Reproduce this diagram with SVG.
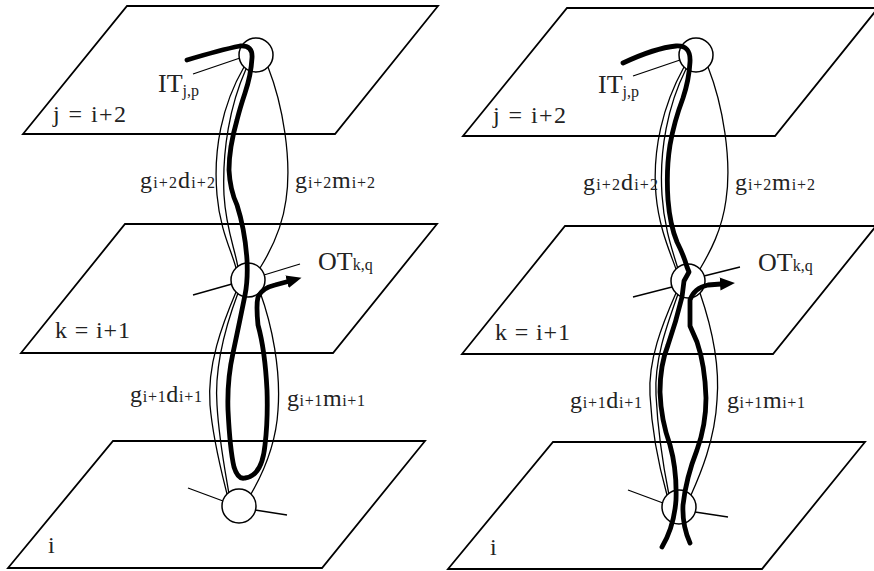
<svg xmlns="http://www.w3.org/2000/svg" width="874" height="571" viewBox="0 0 874 571">
<style>
.plane{fill:none;stroke:#000;stroke-width:1.8;stroke-linejoin:miter}
.thin{fill:none;stroke:#000;stroke-width:1.3}
.thick{fill:none;stroke:#000;stroke-width:4.8;stroke-linecap:round;stroke-linejoin:round}
.node{fill:#fff;stroke:#000;stroke-width:1.5}
.lbl{font-family:"Liberation Serif",serif;font-size:24px;fill:#222}
.big{font-size:26px}
.sub{font-size:16px}
</style>
<defs>
<marker id="ah" markerUnits="userSpaceOnUse" viewBox="0 -7 16 14" markerWidth="16" markerHeight="14" refX="1" refY="0" orient="auto">
<path d="M0,-6.5 L15,0 L0,6.5 z" fill="#000"/>
</marker>
</defs>

<!-- planes (left panel) -->
<g id="plane-L-top"><polygon class="plane" points="127,6 438,6 335,134 23,134"/><text class="lbl" x="53" y="122" textLength="73">j = i+2</text></g>
<g id="plane-L-mid"><polygon class="plane" points="125,224 437,224 333,353 21,353"/><text class="lbl" x="55" y="338" textLength="75">k = i+1</text></g>
<g id="plane-L-bot"><polygon class="plane" points="113,441 425,441 322,568 8,568"/><text class="lbl" x="48" y="553">i</text></g>
<!-- planes (right panel) -->
<g id="plane-R-top"><polygon class="plane" points="567,8 878,8 775,136 463,136"/><text class="lbl" x="493" y="123" textLength="73">j = i+2</text></g>
<g id="plane-R-mid"><polygon class="plane" points="565,226 876,226 773,354 462,354"/><text class="lbl" x="495" y="340" textLength="75">k = i+1</text></g>
<g id="plane-R-bot"><polygon class="plane" points="553,442 865,442 762,569 448,569"/><text class="lbl" x="490" y="555">i</text></g>

<!-- connectors -->
<g id="connectors">
  <!-- left panel thin edges -->
  <path class="thin" d="M244,67 C222,105 213,150 217,195 C220,230 232,252 236,268"/>
  <path class="thin" d="M246,69 C230,105 222,150 224,195 C226,230 236,252 238,268"/>
  <path class="thin" d="M268,67 C283,105 292,160 286,200 C282,230 270,252 260,268"/>
  <path class="thin" d="M236,292 C222,325 207,365 210,405 C213,440 221,470 227,494"/>
  <path class="thin" d="M238,293 C226,325 214,365 217,405 C219,440 225,470 229,494"/>
  <path class="thin" d="M260,292 C272,325 281,370 278,410 C276,445 262,475 251,494"/>
  <line class="thin" x1="193" y1="74" x2="240" y2="58"/>
  <line class="thin" x1="193" y1="295" x2="232" y2="284"/>
  <line class="thin" x1="264" y1="275" x2="300" y2="264"/>
  <line class="thin" x1="188" y1="488" x2="223" y2="501"/>
  <line class="thin" x1="255" y1="510" x2="287" y2="515"/>
  <!-- right panel thin edges -->
  <path class="thin" d="M684,67 C663,105 652,150 656,195 C659,228 670,252 676,269"/>
  <path class="thin" d="M686,69 C668,105 659,150 662,195 C664,228 673,252 678,269"/>
  <path class="thin" d="M708,67 C723,105 732,160 726,200 C722,230 710,252 700,269"/>
  <path class="thin" d="M676,293 C662,325 648,360 650,395 C652,435 660,470 667,495"/>
  <path class="thin" d="M678,294 C667,325 654,360 656,395 C658,435 664,470 669,495"/>
  <path class="thin" d="M700,293 C711,325 720,365 717,400 C715,440 700,475 691,495"/>
  <line class="thin" x1="633" y1="76" x2="680" y2="60"/>
  <line class="thin" x1="633" y1="297" x2="672" y2="287"/>
  <line class="thin" x1="704" y1="276" x2="740" y2="267"/>
  <line class="thin" x1="628" y1="490" x2="663" y2="503"/>
  <line class="thin" x1="695" y1="512" x2="728" y2="517"/>
</g>

<!-- nodes -->
<g id="node-L-j"><circle class="node" cx="256" cy="55" r="17"/></g>
<g id="node-L-k"><circle class="node" cx="248" cy="280" r="17"/></g>
<g id="node-L-i"><circle class="node" cx="239" cy="506" r="17"/></g>
<g id="node-R-j"><circle class="node" cx="696" cy="55" r="17"/></g>
<g id="node-R-k"><circle class="node" cx="688" cy="281" r="17"/></g>
<g id="node-R-i"><circle class="node" cx="679" cy="507" r="17"/></g>

<!-- traceback paths -->
<g id="paths">
  <path class="thick" d="M187,60 Q220,50 240,46 Q253,45 252,58 Q251,75 245,93 Q240,108 237,120 Q229,148 229,170 Q230,190 237,205 Q245,230 247,260 Q248,280 245,295 Q240,320 233,353 Q227,380 228,410 Q230,450 234,467 Q238,480 245,478 Q262,476 265,445 Q268,420 267,390 Q265,350 258,325 Q256,305 258,297 Q262,288 275,285 L288,281.5" marker-end="url(#ah)"/>
  <path class="thick" d="M623,63 Q655,48 676,46 Q691,45 690,62 Q689,80 683,98 Q674,122 670,145 Q666,170 668,200 Q670,225 677,242 Q684,256 687,267 L689,272 L684,281 L682,297 Q676,322 668,345 Q660,365 660,392 Q661,420 670,445 Q677,470 676,500 Q674,527 662,547"/>
  <path class="thick" d="M690,543 Q682,525 683,505 Q686,478 697,450 Q706,425 706,398 Q705,365 697,342 L690,326 L690,300 Q694,288 708,285 L721,284" marker-end="url(#ah)"/>
</g>

<!-- labels -->
<g id="labels-left">
  <text class="lbl big" x="158" y="92">IT<tspan class="sub" dy="4">j,p</tspan></text>
  <text class="lbl" x="140" y="188" textLength="75">g<tspan class="sub">i+2</tspan>d<tspan class="sub">i+2</tspan></text>
  <text class="lbl" x="295" y="188" textLength="80">g<tspan class="sub">i+2</tspan>m<tspan class="sub">i+2</tspan></text>
  <text class="lbl big" x="318" y="270">OT<tspan class="sub">k,q</tspan></text>
  <text class="lbl" x="130" y="402" textLength="72">g<tspan class="sub">i+1</tspan>d<tspan class="sub">i+1</tspan></text>
  <text class="lbl" x="287" y="406" textLength="78">g<tspan class="sub">i+1</tspan>m<tspan class="sub">i+1</tspan></text>
</g>
<g id="labels-right">
  <text class="lbl big" x="598" y="93">IT<tspan class="sub" dy="4">j,p</tspan></text>
  <text class="lbl" x="583" y="190" textLength="75">g<tspan class="sub">i+2</tspan>d<tspan class="sub">i+2</tspan></text>
  <text class="lbl" x="735" y="190" textLength="80">g<tspan class="sub">i+2</tspan>m<tspan class="sub">i+2</tspan></text>
  <text class="lbl big" x="758" y="271">OT<tspan class="sub">k,q</tspan></text>
  <text class="lbl" x="570" y="408" textLength="72">g<tspan class="sub">i+1</tspan>d<tspan class="sub">i+1</tspan></text>
  <text class="lbl" x="727" y="408" textLength="78">g<tspan class="sub">i+1</tspan>m<tspan class="sub">i+1</tspan></text>
</g>
</svg>
